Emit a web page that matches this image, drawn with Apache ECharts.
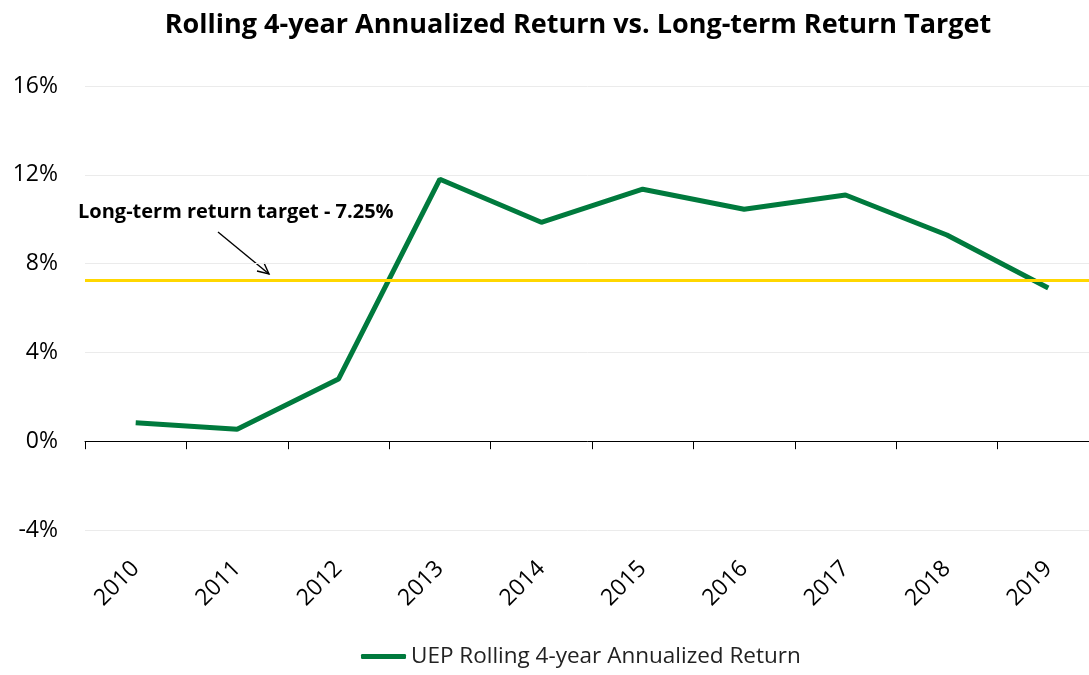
<!DOCTYPE html>
<html>
<head>
<meta charset="utf-8">
<script src="https://cdn.jsdelivr.net/npm/echarts@6/dist/echarts.min.js"></script>
<style>
  html, body { margin: 0; padding: 0; background: #fff; }
  #chart { width: 1089px; height: 675px; }
</style>
</head>
<body>
<div id="chart"></div>
<script>
const years = ['2010', '2011', '2012', '2013', '2014', '2015', '2016', '2017', '2018', '2019'];
const rollingReturn = [0.83, 0.54, 2.8, 11.8, 9.86, 11.35, 10.45, 11.09, 9.29, 6.9];
const returnTarget = 7.25;
const seriesName = 'UEP Rolling 4-year Annualized Return';

const font = '"Open Sans", sans-serif';
const green = '#007A3D';
const gold = '#FFD700';

let chart = echarts.init(document.getElementById('chart'));

let option = {
  animation: false,
  title: {
    text: 'Rolling 4-year Annualized Return vs. Long-term Return Target',
    left: 573,
    textAlign: 'center',
    top: 7,
    textStyle: { fontFamily: font, fontSize: 27, fontWeight: 'bold', color: '#000' },
  },
  grid: { left: 85, top: 86, width: 1014, height: 444, outerBoundsMode: 'none' },
  legend: {
    bottom: 2,
    left: 356,
    icon: 'roundRect',
    itemWidth: 45,
    itemHeight: 5,
    itemGap: 6,
    textStyle: { fontFamily: font, fontSize: 22.5, color: '#222' },
    data: [seriesName],
  },
  xAxis: {
    type: 'category',
    data: years,
    axisLine: { onZero: true, lineStyle: { color: '#000', width: 1 } },
    axisTick: { show: true, length: 8, interval: 0, lineStyle: { color: '#000' } },
    axisLabel: {
      interval: 0,
      rotate: 45,
      margin: 35,
      fontFamily: font,
      fontSize: 23,
      color: '#000',
    },
  },
  yAxis: {
    type: 'value',
    min: -4,
    max: 16,
    interval: 4,
    axisLine: { show: false },
    axisTick: { show: false },
    axisLabel: {
      formatter: '{value}%',
      margin: 27,
      fontFamily: font,
      fontSize: 23,
      color: '#000',
    },
    splitLine: { lineStyle: { color: '#ebebeb', width: 1 } },
  },
  series: [
    {
      name: seriesName,
      type: 'line',
      data: rollingReturn,
      symbol: 'none',
      lineStyle: { color: green, width: 5 },
      itemStyle: { color: green },
      markLine: {
        silent: true,
        symbol: 'none',
        label: { show: false },
        lineStyle: { color: gold, width: 3, type: 'solid' },
        data: [{ yAxis: returnTarget }],
      },
      z: 3,
    },
  ],
  graphic: [
    {
      type: 'text',
      left: 78,
      top: 202,
      style: {
        text: 'Long-term return target - 7.25%',
        fontFamily: font,
        fontSize: 20,
        fontWeight: 'bold',
        fill: '#000',
      },
    },
    {
      type: 'line',
      shape: { x1: 218, y1: 232, x2: 269, y2: 274 },
      style: { stroke: '#000', lineWidth: 1.4 },
    },
    {
      type: 'polyline',
      shape: { points: [[264, 263], [269, 274], [257, 271]] },
      style: { stroke: '#000', lineWidth: 1.4, fill: null },
    },
  ],
};

option && chart.setOption(option);

window.addEventListener('resize', function() {
  chart.resize();
});
</script>
</body>
</html>
